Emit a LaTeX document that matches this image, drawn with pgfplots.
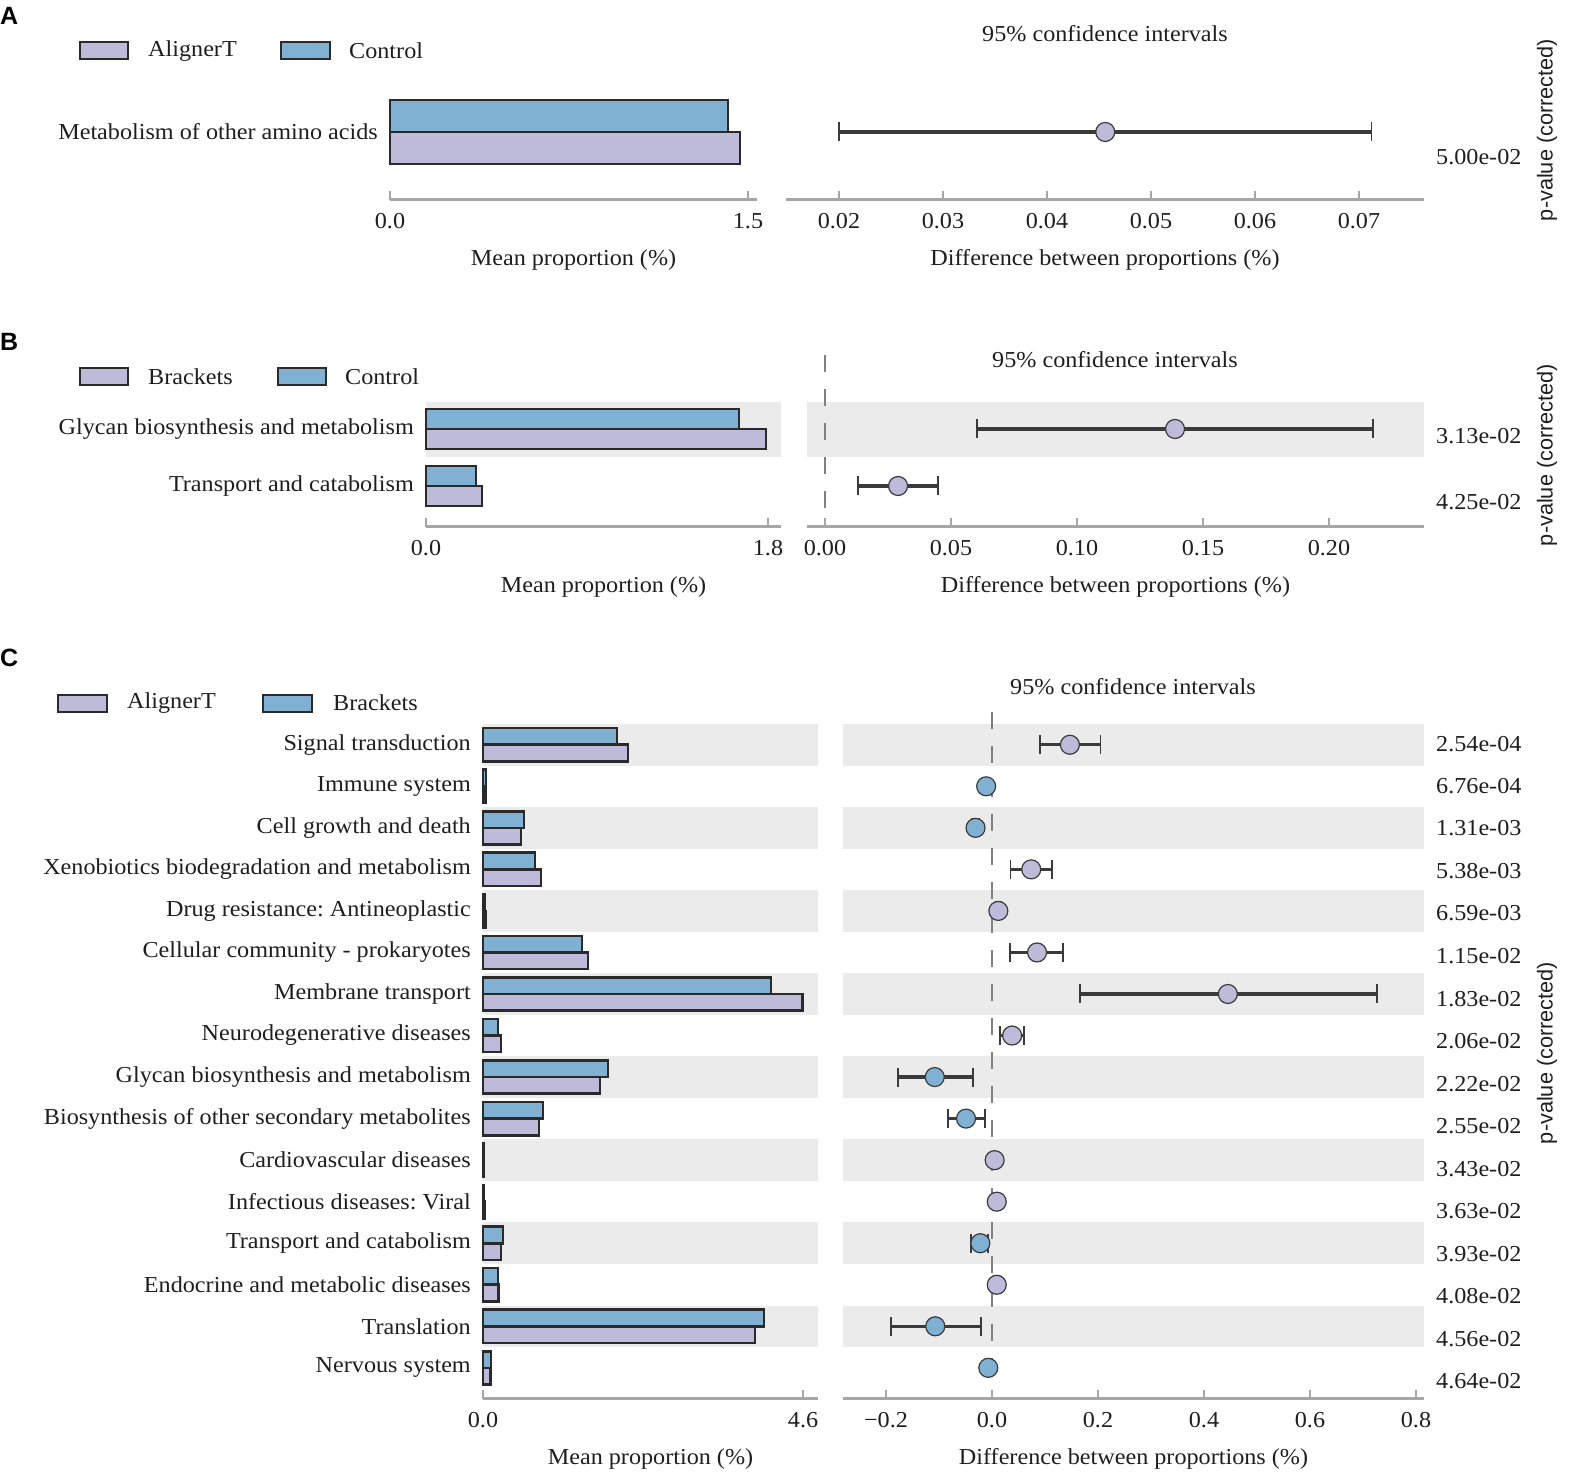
\documentclass[border=0pt]{standalone}
\usepackage{pgfplots}
\pgfplotsset{compat=1.18}
\usepackage{pgfplotstable}
\usepackage{fontspec}
\setmainfont{Liberation Serif}[FakeStretch=1.06]
\newfontfamily\sansf{Liberation Sans}
\frenchspacing

\definecolor{cblue}{HTML}{80B1D3}
\definecolor{cpurp}{HTML}{BEBADA}
\definecolor{bandc}{HTML}{EBEBEB}
\definecolor{axgray}{HTML}{A6A6A6}
\definecolor{edgec}{HTML}{2A2A2A}
\definecolor{errc}{HTML}{3A3A3A}
\definecolor{dashc}{HTML}{808080}
\definecolor{txt}{HTML}{1E1E1E}

\newcommand\lab{\fontsize{22.8}{27}\selectfont}

% panel C: mean proportions, y = 15 is the top row
\pgfplotstableread{
y  brackets alignert
15 1.926 2.084
14 0.045 0.035
13 0.589 0.546
12 0.747 0.834
11 0.025 0.035
10 1.423 1.509
9  4.140 4.590
8  0.216 0.259
7  1.797 1.682
6  0.862 0.805
5  0.012 0.016
4  0.010 0.018
3  0.287 0.259
2  0.216 0.223
1  4.040 3.910
0  0.115 0.110
}\meanC

% panel C: differences, AlignerT higher
\pgfplotstableread{
y  d     em    ep
15 0.147 0.057 0.058
12 0.074 0.039 0.039
11 0.012 0.005 0.005
10 0.085 0.051 0.049
9  0.445 0.279 0.281
8  0.038 0.023 0.022
5  0.005 0.003 0.003
4  0.009 0.004 0.004
2  0.009 0.005 0.005
}\posC

% panel C: differences, Brackets higher
\pgfplotstableread{
y  d      em    ep
14 -0.011 0.003 0.003
13 -0.031 0.007 0.007
7  -0.108 0.069 0.072
6  -0.049 0.034 0.036
3  -0.022 0.018 0.014
1  -0.107 0.084 0.086
0  -0.007 0.003 0.003
}\negC

\pgfplotsset{
  stamp/.style={
    scale only axis, clip=false,
    axis x line*=bottom, axis y line*=left,
    y axis line style={draw=none}, ytick style={draw=none},
    x axis line style={draw=axgray, line width=3pt},
    xtick style={draw=axgray, line width=1.5pt},
    xtick align=inside, major tick length=9pt,
    scaled x ticks=false,
    tick label style={font=\lab, text=txt},
    xticklabel style={yshift=-10pt},
    yticklabel style={inner sep=0pt, xshift=-12pt},
    label style={font=\lab, text=txt},
    xlabel style={at={(axis description cs:0.5,0)}, anchor=center, yshift=-60pt},
  },
  barb/.style={xbar, bar width=#1, fill=cblue, draw=edgec, line width=2.6pt},
  barp/.style={xbar, bar width=#1, fill=cpurp, draw=edgec, line width=2.6pt},
  ci/.style={only marks, mark=*, mark size=9.5pt,
    mark options={fill=#1, draw=errc, line width=1.2pt},
    error bars/.cd, x dir=both, x explicit, error mark=|,
    error bar style={line width=3.2pt, draw=errc},
    error mark options={line width=1.6pt, mark size=9.5pt, draw=errc}},
  zero/.style={dashc, line width=2pt, dash pattern=on 17pt off 17pt},
}

\newcommand\bandsC[2]{%
  \fill[bandc] (axis cs:#1,14.5) rectangle (axis cs:#2,15.5);
  \fill[bandc] (axis cs:#1,12.5) rectangle (axis cs:#2,13.5);
  \fill[bandc] (axis cs:#1,10.5) rectangle (axis cs:#2,11.5);
  \fill[bandc] (axis cs:#1,8.5) rectangle (axis cs:#2,9.5);
  \fill[bandc] (axis cs:#1,6.5) rectangle (axis cs:#2,7.5);
  \fill[bandc] (axis cs:#1,4.5) rectangle (axis cs:#2,5.5);
  \fill[bandc] (axis cs:#1,2.5) rectangle (axis cs:#2,3.5);
  \fill[bandc] (axis cs:#1,0.5) rectangle (axis cs:#2,1.5);
}

\begin{document}
\begin{tikzpicture}
\useasboundingbox (0pt,0pt) rectangle (1569pt,1477pt);

% ---------------- A ----------------
\begin{axis}[stamp, at={(390pt,1277pt)}, anchor=south west,
  width=367pt, height=116pt, xmin=0, xmax=1.5377, ymin=-0.85, ymax=0.6,
  xtick={0,1.5}, xticklabels={0.0,1.5},
  ytick={0}, yticklabels={Metabolism of other amino acids},
  xlabel={Mean proportion (\%)}]
\addplot[barb=0.4, bar shift=0.2] coordinates {(1.416,0)};
\addplot[barp=0.4, bar shift=-0.2] coordinates {(1.466,0)};
\end{axis}

\begin{axis}[stamp, at={(786pt,1277pt)}, anchor=south west,
  width=638pt, height=116pt, xmin=0.014904, xmax=0.07625, ymin=-0.85, ymax=0.6,
  xtick={0.02,0.03,0.04,0.05,0.06,0.07},
  xticklabels={0.02,0.03,0.04,0.05,0.06,0.07}, ytick=\empty,
  xlabel={Difference between proportions (\%)}]
\addplot[ci=cpurp] table[x=d, y=y, x error minus=em, x error plus=ep] {
d y em ep
0.0456 0 0.0256 0.0256
};
\end{axis}

% ---------------- B ----------------
\begin{axis}[stamp, at={(426pt,950pt)}, anchor=south west,
  width=355pt, height=125pt, xmin=0, xmax=1.8684, ymin=-0.7193, ymax=1.4737,
  xtick={0,1.8}, xticklabels={0.0,1.8},
  ytick={0,1}, yticklabels={Transport and catabolism,Glycan biosynthesis and metabolism},
  xlabel={Mean proportion (\%)}]
\fill[bandc] (axis cs:0,0.5) rectangle (axis cs:1.8684,1.4737);
\addplot[barb=0.35, bar shift=0.175] coordinates {(1.647,1) (0.263,0)};
\addplot[barp=0.35, bar shift=-0.175] coordinates {(1.789,1) (0.295,0)};
\end{axis}

\begin{axis}[stamp, at={(807pt,950pt)}, anchor=south west,
  width=617pt, height=125pt, xmin=-0.00714, xmax=0.2377, ymin=-0.7193, ymax=1.4737,
  xtick={0,0.05,0.1,0.15,0.2}, xticklabels={0.00,0.05,0.10,0.15,0.20},
  ytick=\empty, xlabel={Difference between proportions (\%)}]
\fill[bandc] (axis cs:-0.00714,0.5) rectangle (axis cs:0.2377,1.4737);
\addplot[zero] coordinates {(0,2.298) (0,-0.596)};
\addplot[ci=cpurp] table[x=d, y=y, x error minus=em, x error plus=ep] {
d y em ep
0.1389 1 0.0786 0.0786
0.0290 0 0.0159 0.0158
};
\end{axis}

% ---------------- C ----------------
\begin{axis}[stamp, at={(483pt,78pt)}, anchor=south west,
  width=335pt, height=675pt, xmin=0, xmax=4.815, ymin=-0.75, ymax=15.5,
  xtick={0,4.6}, xticklabels={0.0,4.6},
  ytick={0,...,15},
  yticklabels={Nervous system,Translation,Endocrine and metabolic diseases,
    Transport and catabolism,Infectious diseases: Viral,Cardiovascular diseases,
    Biosynthesis of other secondary metabolites,Glycan biosynthesis and metabolism,
    Neurodegenerative diseases,Membrane transport,Cellular community - prokaryotes,
    Drug resistance: Antineoplastic,Xenobiotics biodegradation and metabolism,
    Cell growth and death,Immune system,Signal transduction},
  xlabel={Mean proportion (\%)}]
\bandsC{0}{4.815}
\addplot[barb=0.4, bar shift=0.2] table[x=brackets, y=y] {\meanC};
\addplot[barp=0.4, bar shift=-0.2] table[x=alignert, y=y] {\meanC};
\end{axis}

\begin{axis}[stamp, at={(843pt,78pt)}, anchor=south west,
  width=581pt, height=675pt, xmin=-0.2811, xmax=0.8151, ymin=-0.75, ymax=15.5,
  xtick={-0.2,0,0.2,0.4,0.6,0.8}, xticklabels={−0.2,0.0,0.2,0.4,0.6,0.8},
  ytick=\empty, xlabel={Difference between proportions (\%)}]
\bandsC{-0.2811}{0.8151}
\addplot[zero] coordinates {(0,15.79) (0,-0.58)};
\addplot[ci=cpurp] table[x=d, y=y, x error minus=em, x error plus=ep] {\posC};
\addplot[ci=cblue] table[x=d, y=y, x error minus=em, x error plus=ep] {\negC};
\end{axis}

% ---------------- texts outside the axes ----------------
\begin{scope}[x=1pt, y=1pt, every node/.style={font=\lab, text=txt}]
  \node at (1105,1443) {95\% confidence intervals};
  \node at (1115,1117) {95\% confidence intervals};
  \node at (1133,790) {95\% confidence intervals};
  \node[anchor=west, inner sep=0pt] at (1436,1320) {5.00e-02};
  \node[anchor=west, inner sep=0pt] at (1436,1041) {3.13e-02};
  \node[anchor=west, inner sep=0pt] at (1436,975) {4.25e-02};
  \foreach \p/\yy in {2.54e-04/733,6.76e-04/691,1.31e-03/649,5.38e-03/606,
      6.59e-03/564,1.15e-02/521,1.83e-02/478,2.06e-02/436,2.22e-02/393,
      2.55e-02/351,3.43e-02/308,3.63e-02/266,3.93e-02/223,4.08e-02/181,
      4.56e-02/138,4.64e-02/96}
    \node[anchor=west, inner sep=0pt] at (1436,\yy) {\p};
  % legends
  \node[anchor=west, inner sep=0pt] at (148,1426) {AlignerT};
  \node[anchor=west, inner sep=0pt] at (349,1426) {Control};
  \node[anchor=west, inner sep=0pt] at (148,1100) {Brackets};
  \node[anchor=west, inner sep=0pt] at (345,1100) {Control};
  \node[anchor=west, inner sep=0pt] at (127,774) {AlignerT};
  \node[anchor=west, inner sep=0pt] at (333,774) {Brackets};
\end{scope}
\begin{scope}[x=1pt, y=1pt, draw=edgec, line width=2.6pt]
  \filldraw[fill=cpurp] (80,1418) rectangle (128,1435);
  \filldraw[fill=cblue] (281,1418) rectangle (330,1435);
  \filldraw[fill=cpurp] (80,1092) rectangle (128,1109);
  \filldraw[fill=cblue] (278,1092) rectangle (326,1109);
  \filldraw[fill=cpurp] (58,765) rectangle (107,782);
  \filldraw[fill=cblue] (263,765) rectangle (312,782);
\end{scope}
\begin{scope}[x=1pt, y=1pt, every node/.style={font=\sansf\fontsize{21.7}{26}\selectfont, text=txt, rotate=90}]
  \node at (1547,1347) {p-value (corrected)};
  \node at (1547,1022) {p-value (corrected)};
  \node at (1547,424) {p-value (corrected)};
\end{scope}
\begin{scope}[x=1pt, y=1pt, every node/.style={font=\sansf\bfseries\fontsize{25}{30}\selectfont,
    anchor=north west, inner sep=0pt}]
  \node at (0,1470) {A};
  \node at (0,1144) {B};
  \node at (0,828) {C};
\end{scope}
\end{tikzpicture}
\end{document}
